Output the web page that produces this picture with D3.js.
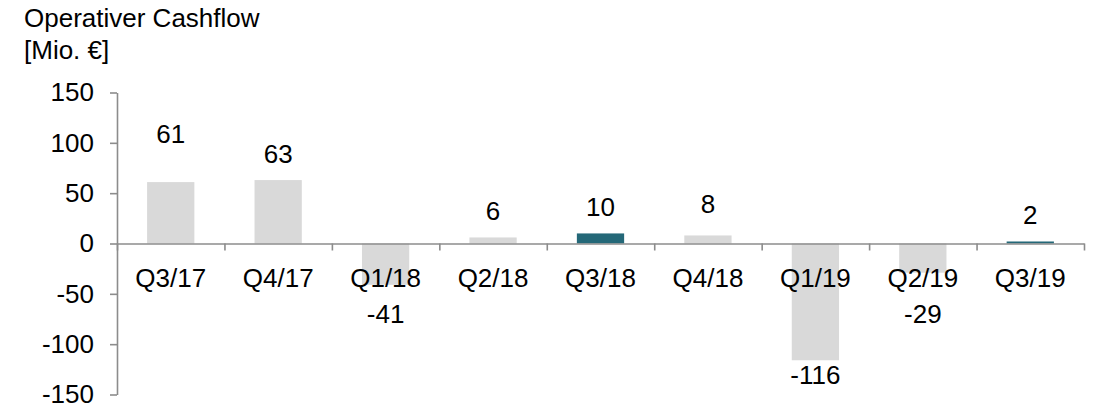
<!DOCTYPE html>
<html>
<head>
<meta charset="utf-8">
<script src="https://cdn.jsdelivr.net/npm/d3@7"></script>
<style>
    body { margin: 0; background: #fff; }
    svg { display: block; font-family: "Liberation Sans", Arial, sans-serif; }
</style>
</head>
<body>
<svg id="CashChart"></svg>
<script>
// data
let quarters = ["Q3/17","Q4/17","Q1/18","Q2/18","Q3/18","Q4/18","Q1/19","Q2/19","Q3/19"];
let cashflow = [61, 63, -41, 6, 10, 8, -116, -29, 2];
let highlighted = ["Q3/18","Q3/19"];
let yTicks = [150, 100, 50, 0, -50, -100, -150];
let titleLines = ["Operativer Cashflow", "[Mio. €]"];

function getConfig(){
    let width = 1094;
    let height = 408;
    let margin = {
        top: 92.5,
        bottom: 13.5,
        left: 117,
        right: 10
    }
    let bodyHeight = height - margin.top - margin.bottom;
    let bodyWidth = width - margin.left - margin.right;
    let fontSize = 26;
    // extra pixel nudges of the value labels, as placed in the original
    let labelNudge = [-22, 0, 0, 0, 0, -5, 0, 0, 0];

    let container = d3.select("#CashChart")
    container.attr("width", width)
            .attr("height", height)

    return { width, height, margin, bodyHeight, bodyWidth, fontSize, labelNudge, container };
}

function getScales(configuration){
    let { bodyWidth, bodyHeight } = configuration;
    let xScale = d3.scaleBand()
        .range([0, bodyWidth])
        .domain(quarters)
        .paddingInner(0.56)
        .paddingOuter(0.28)

    // used only for the tick marks between the categories
    let edgeScale = d3.scaleLinear()
        .domain([0, quarters.length])
        .range([0, bodyWidth])

    let yScale = d3.scaleLinear()
        .domain([-150, 150])
        .range([bodyHeight, 0])

    let cScale = d3.scaleOrdinal()
        .domain(["normal","highlight"])
        .range(["#d9d9d9","#246878"])

    return { xScale, edgeScale, yScale, cScale }
}

function drawBars(scales, configuration){
    let { margin, container } = configuration;
    let { xScale, yScale, cScale } = scales;
    let data = quarters.map((q, i) => ({ q: q, v: cashflow[i] }));

    container.append("g")
        .attr("transform", `translate(${margin.left},${margin.top})`)
        .selectAll("rect")
        .data(data)
        .enter()
        .append("rect")
        .attr("x", d => xScale(d.q))
        .attr("width", xScale.bandwidth())
        .attr("y", d => yScale(Math.max(0, d.v)))
        .attr("height", d => Math.abs(yScale(d.v) - yScale(0)))
        .attr("fill", d => cScale(highlighted.includes(d.q) ? "highlight" : "normal"))
}

function drawAxes(scales, configuration){
    let { xScale, edgeScale, yScale } = scales;
    let { container, margin, fontSize } = configuration;
    let zeroY = margin.top + yScale(0);

    let axisY = d3.axisLeft(yScale)
        .tickValues(yTicks)
        .tickSize(7)
        .tickSizeOuter(0)
        .tickPadding(16)
        .tickFormat(d => String(d));
    let gy = container.append("g")
        .attr("transform", `translate(${margin.left},${margin.top})`)
        .call(axisY)

    // x axis line with ticks at the category edges
    let axisEdges = d3.axisBottom(edgeScale)
        .tickValues(d3.range(0, quarters.length + 1))
        .tickSize(7)
        .tickSizeOuter(0)
        .tickFormat("");
    let ge = container.append("g")
        .attr("transform", `translate(${margin.left},${zeroY})`)
        .call(axisEdges)

    let axisX = d3.axisBottom(xScale)
        .tickSize(0)
        .tickPadding(25);
    let gx = container.append("g")
        .attr("transform", `translate(${margin.left},${zeroY})`)
        .call(axisX)
    gx.select(".domain").remove();

    [gy, ge, gx].forEach(g => {
        g.selectAll(".domain, line")
            .attr("stroke", "#8c8c8c")
            .attr("stroke-width", 1.6);
        g.selectAll("text")
            .attr("fill", "#000")
            .style("font-family", "Liberation Sans, Arial, sans-serif")
            .style("font-size", fontSize + "px");
    });
}

function drawLabels(scales, configuration){
    let { xScale, yScale } = scales;
    let { container, margin, fontSize, labelNudge } = configuration;
    // negative labels never go above the row under the category names
    let lowestLabel = yScale(0) + 25 + fontSize * 0.71 + 36;

    container.append("g")
        .attr("transform", `translate(${margin.left},${margin.top})`)
        .selectAll("text")
        .data(cashflow)
        .enter()
        .append("text")
        .attr("x", (d, i) => xScale(quarters[i]) + xScale.bandwidth() / 2)
        .attr("y", (d, i) => {
            let y = d >= 0 ? yScale(d) - 17 : Math.max(yScale(d) + 24, lowestLabel);
            return y + labelNudge[i];
        })
        .attr("text-anchor", "middle")
        .style("font-size", fontSize + "px")
        .style("fill", "#000")
        .text(d => d)
}

function drawTitle(configuration){
    let { container, fontSize } = configuration;
    container.append("g")
        .selectAll("text")
        .data(titleLines)
        .enter()
        .append("text")
        .attr("x", 24)
        .attr("y", (d, i) => 27 + i * 32)
        .style("font-size", fontSize + "px")
        .style("fill", "#000")
        .text(d => d)
}

function displayData(){
    let configuration = getConfig();
    let scales = getScales(configuration);
    drawBars(scales, configuration);
    drawAxes(scales, configuration);
    drawLabels(scales, configuration);
    drawTitle(configuration);
}

displayData();
</script>
</body>
</html>
